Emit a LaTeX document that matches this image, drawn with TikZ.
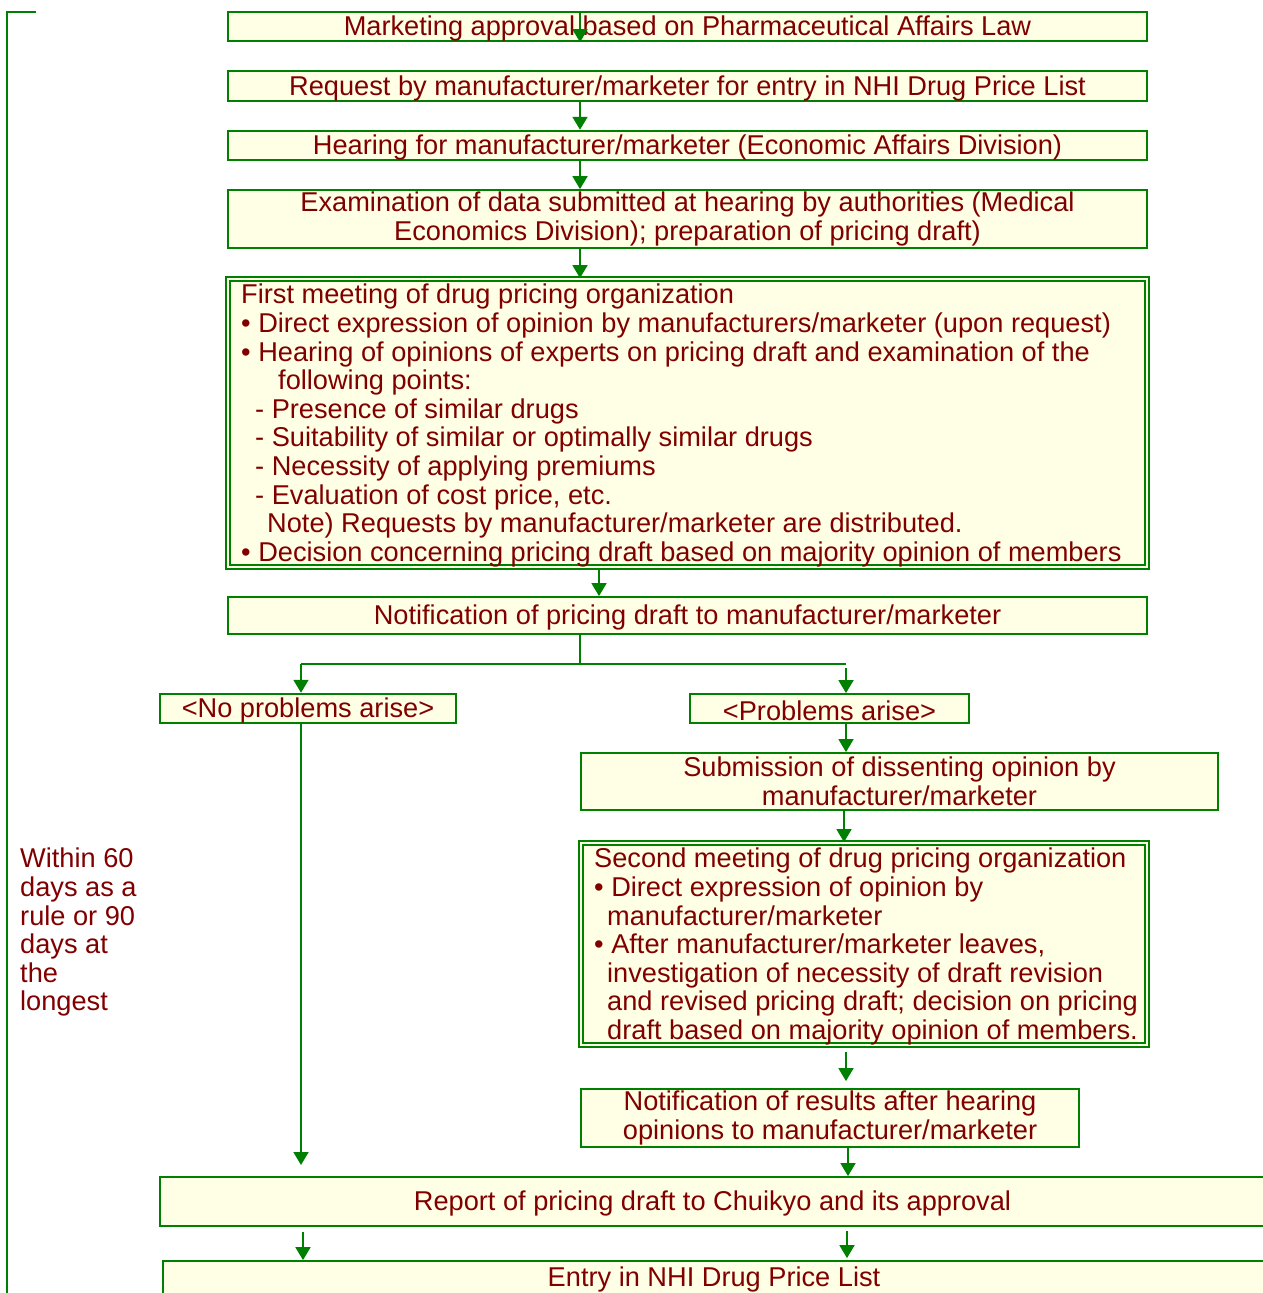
\documentclass[tikz,border=0pt]{standalone}
\usepackage{fontspec}
\setmainfont{Liberation Sans}
\usetikzlibrary{arrows.meta,calc}
\definecolor{gr}{RGB}{0,128,0}
\definecolor{bf}{RGB}{255,255,230}
\definecolor{tx}{RGB}{128,0,0}
\newcommand\fnt{\fontsize{27.2pt}{28.6pt}\selectfont}
\begin{document}
\begin{tikzpicture}[x=1pt,y=-1pt,
  box/.style={draw=gr, fill=bf, line width=1.8pt, inner sep=0pt, text=tx, font=\fnt, align=center,
    execute at begin node={\rule{0pt}{24pt}}},
  dbox/.style={draw=gr, fill=bf, inner sep=0pt, double=bf, double distance=1.5pt, line width=1.8pt},
  lbl/.style={inner sep=0pt, text=tx, font=\fnt, align=left, anchor=north west},
  ln/.style={draw=gr, line width=1.8pt},
  arr/.style={ln, -{Triangle[length=13pt,width=15pt]}}]
\useasboundingbox (0,0) rectangle (1263,1293);
\clip (0,0) rectangle (1263,1293);

% x positions of connectors
\coordinate (xa) at (580,0);
\coordinate (xb) at (599,0);
\coordinate (xl) at (301,0);
\coordinate (xr) at (846,0);
\coordinate (xs) at (844,0);
\coordinate (xt) at (848,0);
\coordinate (xu) at (303,0);
\coordinate (xv) at (847,0);

% boxes
\node[box, minimum width=919pt, minimum height=29pt] (b1) at (687.5,26.5) {Marketing approval based on Pharmaceutical Affairs Law};
\node[box, minimum width=919pt, minimum height=30pt] (b2) at (687.5,86) {Request by manufacturer/marketer for entry in NHI Drug Price List};
\node[box, minimum width=919pt, minimum height=29pt] (b3) at (687.5,145.5) {Hearing for manufacturer/marketer (Economic Affairs Division)};
\node[box, minimum width=919pt, minimum height=58pt] (b4) at (687.5,219) {Examination of data submitted at hearing by authorities (Medical\\Economics Division); preparation of pricing draft)};
\node[dbox, minimum width=919pt, minimum height=288pt] (b5) at (687.5,423) {};
\node[lbl] (t5) at (241,284) {First meeting of drug pricing organization\\
• Direct expression of opinion by manufacturers/marketer (upon request)\\
• Hearing of opinions of experts on pricing draft and examination of the\\
\hspace*{37pt}following points:\\
\hspace*{14pt}- Presence of similar drugs\\
\hspace*{14pt}- Suitability of similar or optimally similar drugs\\
\hspace*{14pt}- Necessity of applying premiums\\
\hspace*{14pt}- Evaluation of cost price, etc.\\
\hspace*{26pt}Note) Requests by manufacturer/marketer are distributed.\\
• Decision concerning pricing draft based on majority opinion of members};
\node[box, minimum width=919pt, minimum height=37pt] (b6) at (687.5,615.5) {Notification of pricing draft to manufacturer/marketer};
\node[box, minimum width=296pt, minimum height=29pt] (b7) at (308,708.5) {<No problems arise>};
\node[box, minimum width=279pt, minimum height=29pt] (b8) at (829.5,708.5) {<Problems arise>};
\node[box, minimum width=637pt, minimum height=57pt] (b9) at (899.5,781.5) {Submission of dissenting opinion by\\manufacturer/marketer};
\node[dbox, minimum width=566pt, minimum height=202pt] (b10) at (864,944) {};
\node[lbl] (t10) at (594,848) {Second meeting of drug pricing organization\\
• Direct expression of opinion by\\
\hspace*{13pt}manufacturer/marketer\\
• After manufacturer/marketer leaves,\\
\hspace*{13pt}investigation of necessity of draft revision\\
\hspace*{13pt}and revised pricing draft; decision on pricing\\
\hspace*{13pt}draft based on majority opinion of members.};
\node[box, minimum width=498pt, minimum height=58pt] (b11) at (830,1118) {Notification of results after hearing\\opinions to manufacturer/marketer};
\node[box, minimum width=1105pt, minimum height=49pt] (b12) at (712.5,1201.5) {Report of pricing draft to Chuikyo and its approval};
\node[box, minimum width=1102pt, minimum height=33pt] (b13) at (714,1277.5) {Entry in NHI Drug Price List};

\node[lbl] (side) at (20,848) {Within 60\\days as a\\rule or 90\\days at\\the\\longest};

% bracket
\coordinate (brt) at (36,12);
\coordinate (brc) at (7,12);
\coordinate (brb) at (7,1300);
\draw[ln] (brt) -- (brc) -- (brb);

% connectors
\draw[arr] (b1.north -| xa) -- (b1.south -| xa);
\draw[arr] (b2.south -| xa) -- (b3.north -| xa);
\draw[arr] (b3.south -| xa) -- (b4.north -| xa);
\draw[arr] (b4.south -| xa) -- (b5.north -| xa);
\draw[arr] (b5.south -| xb) -- (b6.north -| xb);

\coordinate (split) at (580,664);
\coordinate (sl) at (301,664);
\coordinate (sr) at (846,664);
\coordinate (srs) at (846,668);
\draw[ln] (b6.south -| xa) -- (split);
\draw[ln] (sl) -- (sr);
\draw[arr] (sl) -- (b7.north -| xl);
\draw[arr] (srs) -- (b8.north -| xr);

\coordinate (noend) at (301,1165);
\draw[arr] (b7.south -| xl) -- (noend);

\draw[arr] (b8.south -| xr) -- (b9.north -| xr);
\draw[arr] (b9.south -| xs) -- (b10.north -| xs);
\draw[arr] ([yshift=-6pt]b10.south -| xr) -- ([yshift=7pt]b11.north -| xr);
\draw[arr] (b11.south -| xt) -- (b12.north -| xt);
\draw[arr] ([yshift=-5pt]b12.south -| xu) -- (b13.north -| xu);
\draw[arr] ([yshift=-4pt]b12.south -| xv) -- ([yshift=2pt]b13.north -| xv);
\end{tikzpicture}
\end{document}
